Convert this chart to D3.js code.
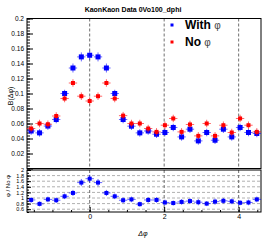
<!DOCTYPE html>
<html>
<head>
<meta charset="UTF-8">
<title>KaonKaon Data 0Vo100_dphi</title>
<style type="text/css">
    body { margin: 0; background: #ffffff; }
    svg { display: block; font-family: 'Liberation Sans', Arial, sans-serif; }
    .axis path { display: none; }
    .axis line { stroke: #000; }
</style>
</head>
<body>
<script src="https://d3js.org/d3.v7.min.js"></script>
<script type="text/javascript">
    // bin centres in delta phi (28 bins)
    const dphi = [-1.571, -1.346, -1.122, -0.898, -0.673, -0.449, -0.224, 0.000,
                  0.224, 0.449, 0.673, 0.898, 1.122, 1.346, 1.571, 1.795,
                  2.020, 2.244, 2.468, 2.693, 2.917, 3.142, 3.366, 3.590,
                  3.815, 4.039, 4.264, 4.488];

    const withPhi = [0.0500, 0.0475, 0.0566, 0.0653, 0.1000, 0.1340, 0.1488, 0.1510,
                     0.1488, 0.1340, 0.1000, 0.0653, 0.0564, 0.0475, 0.0500, 0.0457,
                     0.0480, 0.0547, 0.0421, 0.0524, 0.0368, 0.0480, 0.0377, 0.0524,
                     0.0421, 0.0547, 0.0480, 0.0467];
    const withErr = [0.005, 0.005, 0.005, 0.005, 0.005, 0.006, 0.006, 0.006,
                     0.006, 0.006, 0.005, 0.005, 0.005, 0.005, 0.005, 0.005,
                     0.005, 0.005, 0.005, 0.005, 0.005, 0.005, 0.005, 0.005,
                     0.005, 0.005, 0.005, 0.005];

    const noPhi = [0.0533, 0.0600, 0.0590, 0.0700, 0.0933, 0.1140, 0.0964, 0.0900,
                   0.0964, 0.1140, 0.0933, 0.0705, 0.0600, 0.0600, 0.0533, 0.0488,
                   0.0577, 0.0667, 0.0488, 0.0587, 0.0435, 0.0600, 0.0435, 0.0577,
                   0.0480, 0.0667, 0.0577, 0.0488];
    const noErr = [0.005, 0.005, 0.005, 0.005, 0.005, 0.005, 0.005, 0.005,
                   0.005, 0.005, 0.005, 0.005, 0.005, 0.005, 0.005, 0.005,
                   0.005, 0.005, 0.005, 0.005, 0.005, 0.005, 0.005, 0.005,
                   0.005, 0.005, 0.005, 0.005];

    const ratio = [0.93, 0.79, 0.95, 0.92, 1.06, 1.18, 1.55, 1.69,
                   1.55, 1.18, 1.06, 0.92, 0.95, 0.78, 0.93, 0.93,
                   0.84, 0.82, 0.86, 0.89, 0.85, 0.80, 0.87, 0.90,
                   0.88, 0.83, 0.84, 0.95];
    const ratioErr = [0.10, 0.09, 0.10, 0.10, 0.10, 0.11, 0.13, 0.14,
                      0.13, 0.11, 0.10, 0.10, 0.10, 0.09, 0.10, 0.10,
                      0.10, 0.09, 0.10, 0.10, 0.11, 0.09, 0.11, 0.10,
                      0.10, 0.09, 0.10, 0.10];

    const xTicks = [0, 2, 4];
    const yTicksTop = [0, 0.02, 0.04, 0.06, 0.08, 0.1, 0.12, 0.14, 0.16, 0.18, 0.2];
    const yTicksBottom = [0.6, 0.8, 1, 1.2, 1.4, 1.6, 1.8, 2];
    const legendLabels = ['With', 'No'];

    const halfBin = Math.PI / 28;
    const W = 266, H = 242;
    const frame = { left: 27, right: 261, top: 18.5, mid: 168.5, midLow: 170, bottom: 212 };

    const svg = d3.select('body').append('svg')
                  .attr('width', W)
                  .attr('height', H);

    // scales
    const x = d3.scaleLinear()
                .domain([-Math.PI / 2 - halfBin, 3 * Math.PI / 2 - halfBin])
                .range([frame.left, frame.right]);
    const yTop = d3.scaleLinear().domain([0, 0.2]).range([frame.mid, frame.top]);
    const yBot = d3.scaleLinear().domain([0.5, 2]).range([frame.bottom, frame.midLow]);

    const fmt = d => +d.toFixed(2);

    // grid lines in lower pad
    svg.append('g').selectAll('line')
        .data(yTicksBottom.filter(d => d < 2))
        .enter().append('line')
        .attr('x1', frame.left).attr('x2', frame.right)
        .attr('y1', d => yBot(d)).attr('y2', d => yBot(d))
        .attr('stroke', '#b0b0b0')
        .attr('stroke-dasharray', '3,2');

    // vertical grid lines in both pads
    [[frame.top, frame.mid], [frame.midLow, frame.bottom]].forEach(r => {
        svg.append('g').selectAll('line')
            .data(xTicks)
            .enter().append('line')
            .attr('x1', d => x(d)).attr('x2', d => x(d))
            .attr('y1', r[0]).attr('y2', r[1])
            .attr('stroke', '#707070')
            .attr('stroke-dasharray', '3,2');
    });

    // upper y axis ("0" label is hidden behind the lower pad's "2")
    svg.append('g')
        .attr('class', 'axis')
        .attr('transform', `translate(${frame.left},0)`)
        .call(d3.axisLeft(yTop).tickValues(d3.range(0, 0.2001, 0.004)).tickSize(-3).tickFormat(''));
    svg.append('g')
        .attr('class', 'axis')
        .attr('transform', `translate(${frame.left},0)`)
        .call(d3.axisLeft(yTop).tickValues(yTicksTop).tickSize(-6).tickPadding(3)
                .tickFormat(d => d === 0 ? '' : fmt(d)))
        .selectAll('text').style('font-size', '6.5px').attr('fill', '#000');

    // lower y axis
    svg.append('g')
        .attr('class', 'axis')
        .attr('transform', `translate(${frame.left},0)`)
        .call(d3.axisLeft(yBot).tickValues(d3.range(0.5, 2.001, 0.1)).tickSize(-2).tickFormat(''));
    svg.append('g')
        .attr('class', 'axis')
        .attr('transform', `translate(${frame.left},0)`)
        .call(d3.axisLeft(yBot).tickValues(yTicksBottom).tickSize(-4).tickPadding(3).tickFormat(fmt))
        .selectAll('text').style('font-size', '5.5px').attr('fill', '#000');

    // x axis (lower pad)
    svg.append('g')
        .attr('class', 'axis')
        .attr('transform', `translate(0,${frame.bottom})`)
        .call(d3.axisBottom(x).tickValues(d3.range(-1.5, 4.51, 0.5)).tickSize(-2).tickFormat(''));
    svg.append('g')
        .attr('class', 'axis')
        .attr('transform', `translate(0,${frame.bottom})`)
        .call(d3.axisBottom(x).tickValues(xTicks).tickSize(-5).tickPadding(2.5).tickFormat(fmt))
        .selectAll('text').style('font-size', '7px').attr('fill', '#000');

    // frames
    svg.append('rect')
        .attr('x', frame.left).attr('y', frame.top)
        .attr('width', frame.right - frame.left).attr('height', frame.mid - frame.top)
        .attr('fill', 'none').attr('stroke', '#000');
    svg.append('rect')
        .attr('x', frame.left).attr('y', frame.midLow)
        .attr('width', frame.right - frame.left).attr('height', frame.bottom - frame.midLow)
        .attr('fill', 'none').attr('stroke', '#000');

    // draw histogram points with error bars
    function drawPoints(values, errors, yScale, colour, size) {
        const data = values.map((v, i) => ({ x: dphi[i], v: v, e: errors[i] }));
        const g = svg.append('g');
        g.selectAll('.hbar').data(data).enter().append('line')
            .attr('x1', d => x(d.x - halfBin)).attr('x2', d => x(d.x + halfBin))
            .attr('y1', d => yScale(d.v)).attr('y2', d => yScale(d.v))
            .attr('stroke', colour).attr('stroke-opacity', 0.6);
        g.selectAll('.vbar').data(data).enter().append('line')
            .attr('x1', d => x(d.x)).attr('x2', d => x(d.x))
            .attr('y1', d => yScale(d.v - d.e)).attr('y2', d => yScale(d.v + d.e))
            .attr('stroke', colour).attr('stroke-opacity', 0.6);
        g.selectAll('rect').data(data).enter().append('rect')
            .attr('x', d => x(d.x) - size / 2).attr('y', d => yScale(d.v) - size / 2)
            .attr('width', size).attr('height', size)
            .attr('fill', colour);
    }

    drawPoints(withPhi, withErr, yTop, '#0000ff', 5);
    drawPoints(noPhi, noErr, yTop, '#ff0000', 4);
    drawPoints(ratio, ratioErr, yBot, '#0000ff', 4);

    // title
    svg.append('text')
        .attr('x', 133).attr('y', 11.5)
        .attr('text-anchor', 'middle')
        .style('font-size', '7px').style('font-weight', 'bold')
        .text('KaonKaon Data 0Vo100_dphi');

    // axis titles
    svg.append('text')
        .attr('transform', 'translate(13,96) rotate(-90)')
        .attr('text-anchor', 'middle')
        .style('font-size', '7px')
        .text('B(Δφ)');
    svg.append('text')
        .attr('transform', 'translate(10,186) rotate(-90)')
        .attr('text-anchor', 'middle')
        .style('font-size', '6px')
        .text('φ / No φ');
    svg.append('text')
        .attr('x', 143).attr('y', 235.5)
        .attr('text-anchor', 'middle')
        .style('font-size', '7px').style('font-style', 'italic')
        .text('Δφ');

    // legend
    const legend = svg.append('g');
    const legendColours = ['#0000ff', '#ff0000'];
    legendLabels.forEach((lab, i) => {
        const cy = 25 + i * 17;
        legend.append('rect')
              .attr('x', 170.5).attr('y', cy - 1.5)
              .attr('width', 3).attr('height', 3)
              .attr('fill', legendColours[i]);
        const t = legend.append('text')
              .attr('x', 185).attr('y', cy + 4.3)
              .style('font-size', '12px').style('font-weight', 'bold');
        t.append('tspan').text(lab + ' ');
        t.append('tspan').style('font-weight', 'normal').style('font-size', '10px')
         .attr('fill', '#444').text('φ');
    });
</script>
</body>
</html>
